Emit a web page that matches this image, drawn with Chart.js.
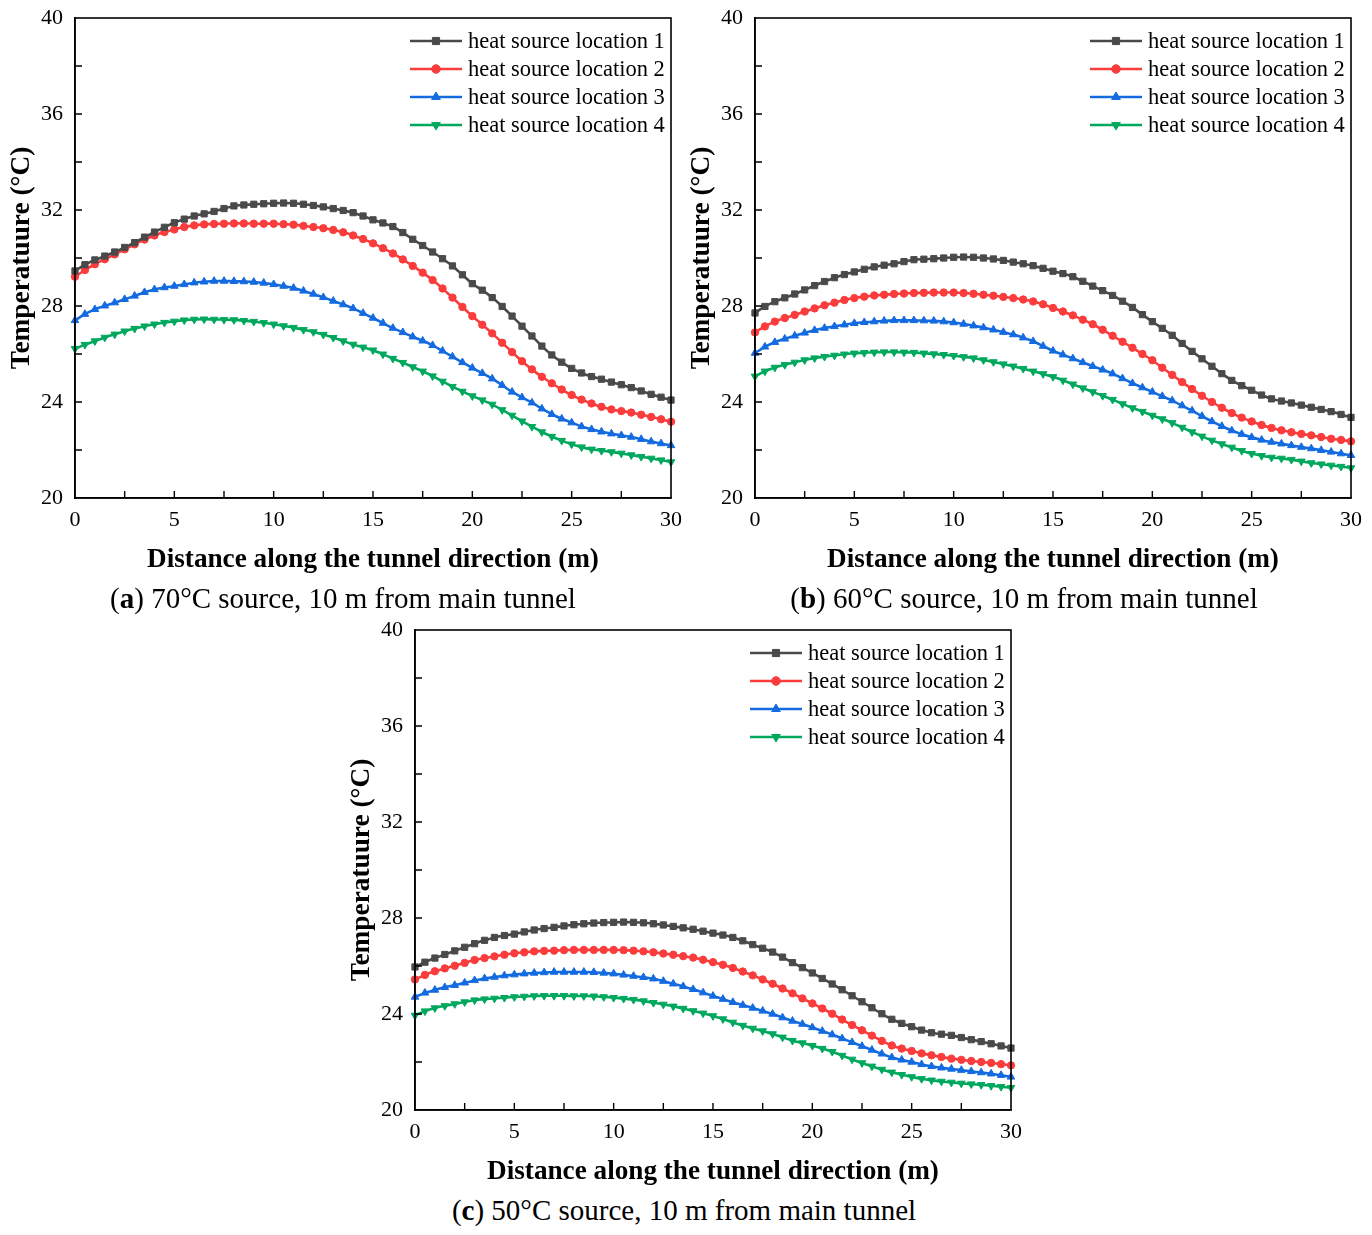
<!DOCTYPE html>
<html>
<head>
<meta charset="utf-8">
<script src="https://cdn.jsdelivr.net/npm/chart.js"></script>
<style>
  html, body { margin: 0; padding: 0; background: #fff; }
  body { width: 1372px; height: 1235px; position: relative; overflow: hidden; font-family: "Liberation Serif", "Times New Roman", serif; }
  canvas { position: absolute; }
  .cap { position: absolute; text-align: center; font-size: 29px; line-height: 30px; color: #000; white-space: nowrap; }
  .cap b { font-weight: bold; }
</style>
</head>
<body>
<canvas id="ca" width="690" height="580" style="left:0px;top:0px"></canvas>
<canvas id="cb" width="690" height="580" style="left:680px;top:0px"></canvas>
<canvas id="cc" width="690" height="580" style="left:340px;top:612px"></canvas>
<div class="cap" style="left:0px;top:583px;width:686px">(<b>a</b>) 70°C source, 10 m from main tunnel</div>
<div class="cap" style="left:680px;top:583px;width:688px">(<b>b</b>) 60°C source, 10 m from main tunnel</div>
<div class="cap" style="left:340px;top:1195px;width:688px">(<b>c</b>) 50°C source, 10 m from main tunnel</div>
<script>
const distance = [0,0.5,1,1.5,2,2.5,3,3.5,4,4.5,5,5.5,6,6.5,7,7.5,8,8.5,9,9.5,10,10.5,11,11.5,12,12.5,13,13.5,14,14.5,15,15.5,16,16.5,17,17.5,18,18.5,19,19.5,20,20.5,21,21.5,22,22.5,23,23.5,24,24.5,25,25.5,26,26.5,27,27.5,28,28.5,29,29.5,30];

const seriesLabels = ["heat source location 1","heat source location 2","heat source location 3","heat source location 4"];
const xTickLabels = [0,5,10,15,20,25,30];
const yTickLabels = [20,24,28,32,36,40];

// (a) 70°C source
const a1 = [29.46,29.72,29.92,30.08,30.25,30.44,30.64,30.87,31.08,31.28,31.47,31.62,31.75,31.84,31.94,32.06,32.17,32.21,32.24,32.26,32.28,32.29,32.28,32.24,32.19,32.13,32.06,31.98,31.89,31.75,31.59,31.46,31.31,31.06,30.78,30.52,30.25,29.97,29.67,29.30,28.93,28.66,28.35,27.98,27.58,27.16,26.75,26.33,25.96,25.66,25.40,25.21,25.06,24.95,24.83,24.72,24.60,24.46,24.32,24.20,24.08];
const a2 = [29.22,29.50,29.74,29.95,30.15,30.36,30.57,30.77,30.94,31.08,31.19,31.29,31.36,31.40,31.42,31.43,31.44,31.44,31.43,31.43,31.43,31.41,31.39,31.34,31.29,31.24,31.17,31.07,30.94,30.79,30.61,30.41,30.19,29.94,29.67,29.39,29.08,28.73,28.35,27.96,27.58,27.22,26.86,26.47,26.08,25.70,25.36,25.05,24.78,24.52,24.29,24.10,23.94,23.80,23.69,23.62,23.56,23.47,23.38,23.28,23.18];
const a3 = [27.40,27.66,27.86,28.01,28.14,28.28,28.42,28.57,28.69,28.77,28.83,28.90,28.97,29.01,29.04,29.04,29.03,29.02,29.00,28.96,28.90,28.83,28.75,28.63,28.50,28.36,28.21,28.06,27.90,27.70,27.50,27.29,27.08,26.90,26.72,26.55,26.36,26.13,25.89,25.65,25.42,25.20,24.97,24.70,24.42,24.19,23.97,23.72,23.49,23.30,23.14,22.98,22.86,22.76,22.68,22.61,22.54,22.45,22.35,22.27,22.19];
const a4 = [26.22,26.39,26.54,26.69,26.82,26.95,27.06,27.16,27.24,27.31,27.36,27.41,27.44,27.45,27.44,27.43,27.42,27.39,27.35,27.30,27.24,27.17,27.10,27.01,26.92,26.81,26.68,26.54,26.40,26.28,26.16,25.99,25.81,25.64,25.46,25.28,25.08,24.86,24.64,24.44,24.25,24.08,23.90,23.67,23.44,23.20,22.97,22.75,22.56,22.39,22.24,22.12,22.03,21.97,21.92,21.86,21.79,21.72,21.65,21.58,21.50];

// (b) 60°C source
const b1 = [27.71,27.98,28.18,28.34,28.50,28.67,28.85,29.02,29.18,29.31,29.42,29.53,29.63,29.70,29.76,29.85,29.93,29.95,29.97,30.00,30.03,30.04,30.03,30.00,29.96,29.90,29.83,29.76,29.68,29.57,29.45,29.35,29.22,29.03,28.83,28.64,28.44,28.20,27.94,27.64,27.35,27.07,26.78,26.44,26.11,25.80,25.49,25.18,24.90,24.68,24.49,24.29,24.13,24.04,23.96,23.87,23.78,23.69,23.60,23.48,23.36];
const b2 = [26.90,27.15,27.35,27.50,27.63,27.77,27.90,28.03,28.14,28.25,28.33,28.39,28.44,28.47,28.50,28.52,28.54,28.55,28.56,28.56,28.56,28.54,28.51,28.47,28.43,28.38,28.33,28.27,28.19,28.07,27.92,27.77,27.61,27.43,27.24,27.01,26.76,26.51,26.26,26.00,25.74,25.43,25.13,24.83,24.54,24.26,24.00,23.76,23.54,23.35,23.19,23.04,22.92,22.82,22.74,22.67,22.61,22.54,22.47,22.42,22.36];
const b3 = [26.04,26.30,26.49,26.63,26.76,26.88,26.99,27.08,27.15,27.22,27.28,27.32,27.35,27.38,27.40,27.40,27.40,27.39,27.38,27.35,27.31,27.25,27.18,27.10,27.01,26.91,26.81,26.68,26.53,26.33,26.13,25.97,25.81,25.65,25.49,25.34,25.18,24.98,24.78,24.60,24.42,24.24,24.06,23.85,23.64,23.41,23.19,22.99,22.81,22.66,22.53,22.42,22.33,22.26,22.19,22.12,22.06,21.99,21.92,21.85,21.78];
const b4 = [25.07,25.28,25.44,25.55,25.65,25.75,25.83,25.89,25.94,25.99,26.03,26.05,26.07,26.08,26.08,26.07,26.06,26.03,26.00,25.97,25.93,25.88,25.83,25.75,25.67,25.58,25.49,25.39,25.28,25.17,25.05,24.90,24.74,24.58,24.42,24.26,24.10,23.92,23.75,23.60,23.44,23.29,23.13,22.94,22.75,22.57,22.40,22.25,22.11,21.97,21.85,21.76,21.69,21.65,21.60,21.53,21.46,21.41,21.36,21.31,21.25];

// (c) 50°C source
const c1 = [25.96,26.16,26.33,26.48,26.63,26.78,26.93,27.07,27.19,27.27,27.33,27.42,27.50,27.56,27.61,27.67,27.72,27.76,27.79,27.81,27.82,27.83,27.82,27.80,27.76,27.71,27.65,27.59,27.53,27.45,27.37,27.29,27.19,27.05,26.89,26.74,26.58,26.37,26.14,25.93,25.71,25.48,25.25,25.01,24.76,24.51,24.26,24.01,23.78,23.61,23.47,23.33,23.22,23.16,23.11,23.02,22.93,22.85,22.76,22.67,22.58];
const c2 = [25.44,25.63,25.78,25.90,26.01,26.13,26.25,26.33,26.40,26.47,26.53,26.57,26.61,26.63,26.64,26.66,26.67,26.67,26.67,26.67,26.67,26.66,26.64,26.61,26.57,26.52,26.47,26.41,26.35,26.26,26.16,26.05,25.92,25.77,25.61,25.44,25.26,25.06,24.86,24.65,24.44,24.23,24.01,23.77,23.54,23.32,23.10,22.88,22.69,22.56,22.46,22.36,22.28,22.21,22.14,22.09,22.04,22.00,21.96,21.91,21.86];
const c3 = [24.71,24.88,25.00,25.11,25.20,25.30,25.40,25.48,25.54,25.60,25.64,25.68,25.71,25.73,25.75,25.75,25.75,25.75,25.74,25.71,25.68,25.63,25.58,25.53,25.47,25.37,25.26,25.15,25.03,24.89,24.75,24.62,24.49,24.37,24.25,24.13,24.00,23.85,23.71,23.58,23.44,23.29,23.14,22.98,22.82,22.66,22.50,22.34,22.19,22.09,22.00,21.90,21.82,21.76,21.71,21.66,21.61,21.56,21.51,21.45,21.38];
const c4 = [23.94,24.12,24.25,24.34,24.42,24.50,24.58,24.62,24.65,24.68,24.71,24.73,24.75,24.76,24.76,24.76,24.75,24.75,24.74,24.71,24.68,24.64,24.60,24.54,24.47,24.40,24.32,24.23,24.13,24.03,23.92,23.79,23.65,23.52,23.40,23.29,23.17,23.03,22.89,22.79,22.68,22.56,22.43,22.27,22.11,21.96,21.82,21.69,21.57,21.47,21.38,21.30,21.24,21.19,21.15,21.11,21.08,21.05,21.01,20.97,20.93];

const FONT = '"Liberation Serif", "Times New Roman", serif';
const styles = [
  { color: '#4a4a4a', pointStyle: 'rect', radius: 4.4, rotation: 0 },
  { color: '#fa3c3c', pointStyle: 'circle', radius: 3.7, rotation: 0 },
  { color: '#146be0', pointStyle: 'triangle', radius: 4.4, rotation: 0 },
  { color: '#00a85e', pointStyle: 'triangle', radius: 4.4, rotation: 180 }
];

function drawMarker(ctx, style, x, y) {
  const r = style.radius * 1.15;
  ctx.beginPath();
  if (style.pointStyle === 'rect') {
    const s = r * Math.SQRT1_2;
    ctx.rect(x - s, y - s, 2 * s, 2 * s);
  } else if (style.pointStyle === 'circle') {
    ctx.arc(x, y, r, 0, Math.PI * 2);
  } else {
    const dir = style.rotation === 180 ? -1 : 1;
    ctx.moveTo(x, y - dir * r);
    ctx.lineTo(x - r * 0.866, y + dir * r * 0.5);
    ctx.lineTo(x + r * 0.866, y + dir * r * 0.5);
    ctx.closePath();
  }
  ctx.fill();
  ctx.stroke();
}

const framePlugin = {
  id: 'frameTicksLegend',
  afterDraw(chart) {
    const { ctx, chartArea: a } = chart;
    const x = chart.scales.x, y = chart.scales.y;
    ctx.save();
    // inward tick marks
    ctx.strokeStyle = '#000';
    ctx.lineWidth = 1.4;
    ctx.beginPath();
    y.ticks.forEach(t => {
      const py = y.getPixelForValue(t.value);
      if (py > a.top + 1 && py < a.bottom - 1) { ctx.moveTo(a.left, py); ctx.lineTo(a.left + 7, py); }
    });
    x.ticks.forEach(t => {
      const px = x.getPixelForValue(t.value);
      if (px > a.left + 1 && px < a.right - 1) { ctx.moveTo(px, a.bottom); ctx.lineTo(px, a.bottom - 7); }
    });
    ctx.stroke();
    // frame
    ctx.lineWidth = 1.6;
    ctx.strokeRect(a.left, a.top, a.right - a.left, a.bottom - a.top);
    // legend inside plot, top-right
    ctx.font = '22.5px ' + FONT;
    ctx.textBaseline = 'middle';
    ctx.textAlign = 'left';
    chart.data.datasets.forEach((ds, i) => {
      const st = styles[i];
      const ly = a.top + 23 + i * 28;
      const x0 = a.right - 261, x1 = a.right - 209;
      ctx.strokeStyle = st.color;
      ctx.fillStyle = st.color;
      ctx.lineWidth = 2.6;
      ctx.beginPath(); ctx.moveTo(x0, ly); ctx.lineTo(x1, ly); ctx.stroke();
      ctx.lineWidth = 1;
      drawMarker(ctx, st, (x0 + x1) / 2, ly);
      ctx.fillStyle = '#000';
      ctx.fillText(ds.label, a.right - 203, ly + 1);
    });
    ctx.restore();
  }
};

function makeChart(id, series) {
  const datasets = series.map((vals, i) => ({
    label: seriesLabels[i],
    data: distance.map((d, k) => ({ x: d, y: vals[k] })),
    borderColor: styles[i].color,
    backgroundColor: styles[i].color,
    borderWidth: 2.6,
    pointStyle: styles[i].pointStyle,
    pointRadius: styles[i].radius,
    pointRotation: styles[i].rotation,
    pointBorderWidth: 1,
    tension: 0.2,
    clip: false
  }));
  return new Chart(document.getElementById(id), {
    type: 'line',
    data: { datasets },
    options: {
      responsive: false,
      animation: false,
      devicePixelRatio: 1,
      layout: { padding: { top: 18, right: 19, left: 0, bottom: 0 } },
      plugins: { legend: { display: false }, tooltip: { enabled: false } },
      scales: {
        x: {
          type: 'linear', min: 0, max: 30,
          ticks: {
            stepSize: 2.5, autoSkip: false, maxRotation: 0, padding: 9,
            color: '#000', font: { family: FONT, size: 22 },
            callback: v => xTickLabels.includes(v) ? String(v) : ''
          },
          grid: { display: false, drawTicks: false },
          border: { display: true, color: '#000', width: 1.6 },
          title: {
            display: true, text: 'Distance along the tunnel direction (m)',
            color: '#000', font: { family: FONT, size: 27.2, weight: 'bold' },
            padding: { top: 0, bottom: 4 }
          },
          afterFit: s => { s.height = 82; s.paddingLeft = 0; s.paddingRight = 0; }
        },
        y: {
          type: 'linear', min: 20, max: 40,
          ticks: {
            stepSize: 2, autoSkip: false, padding: 12,
            color: '#000', font: { family: FONT, size: 22 },
            callback: v => yTickLabels.includes(v) ? String(v) : ''
          },
          grid: { display: false, drawTicks: false },
          border: { display: true, color: '#000', width: 1.6 },
          title: {
            display: true, text: 'Temperatuure (°C)',
            color: '#000', font: { family: FONT, size: 27.3, weight: 'bold' },
            padding: { top: 6, bottom: 0 }
          },
          afterFit: s => { s.width = 75; s.paddingTop = 0; s.paddingBottom = 0; }
        }
      }
    },
    plugins: [framePlugin]
  });
}

makeChart('ca', [a1, a2, a3, a4]);
makeChart('cb', [b1, b2, b3, b4]);
makeChart('cc', [c1, c2, c3, c4]);
</script>
</body>
</html>
